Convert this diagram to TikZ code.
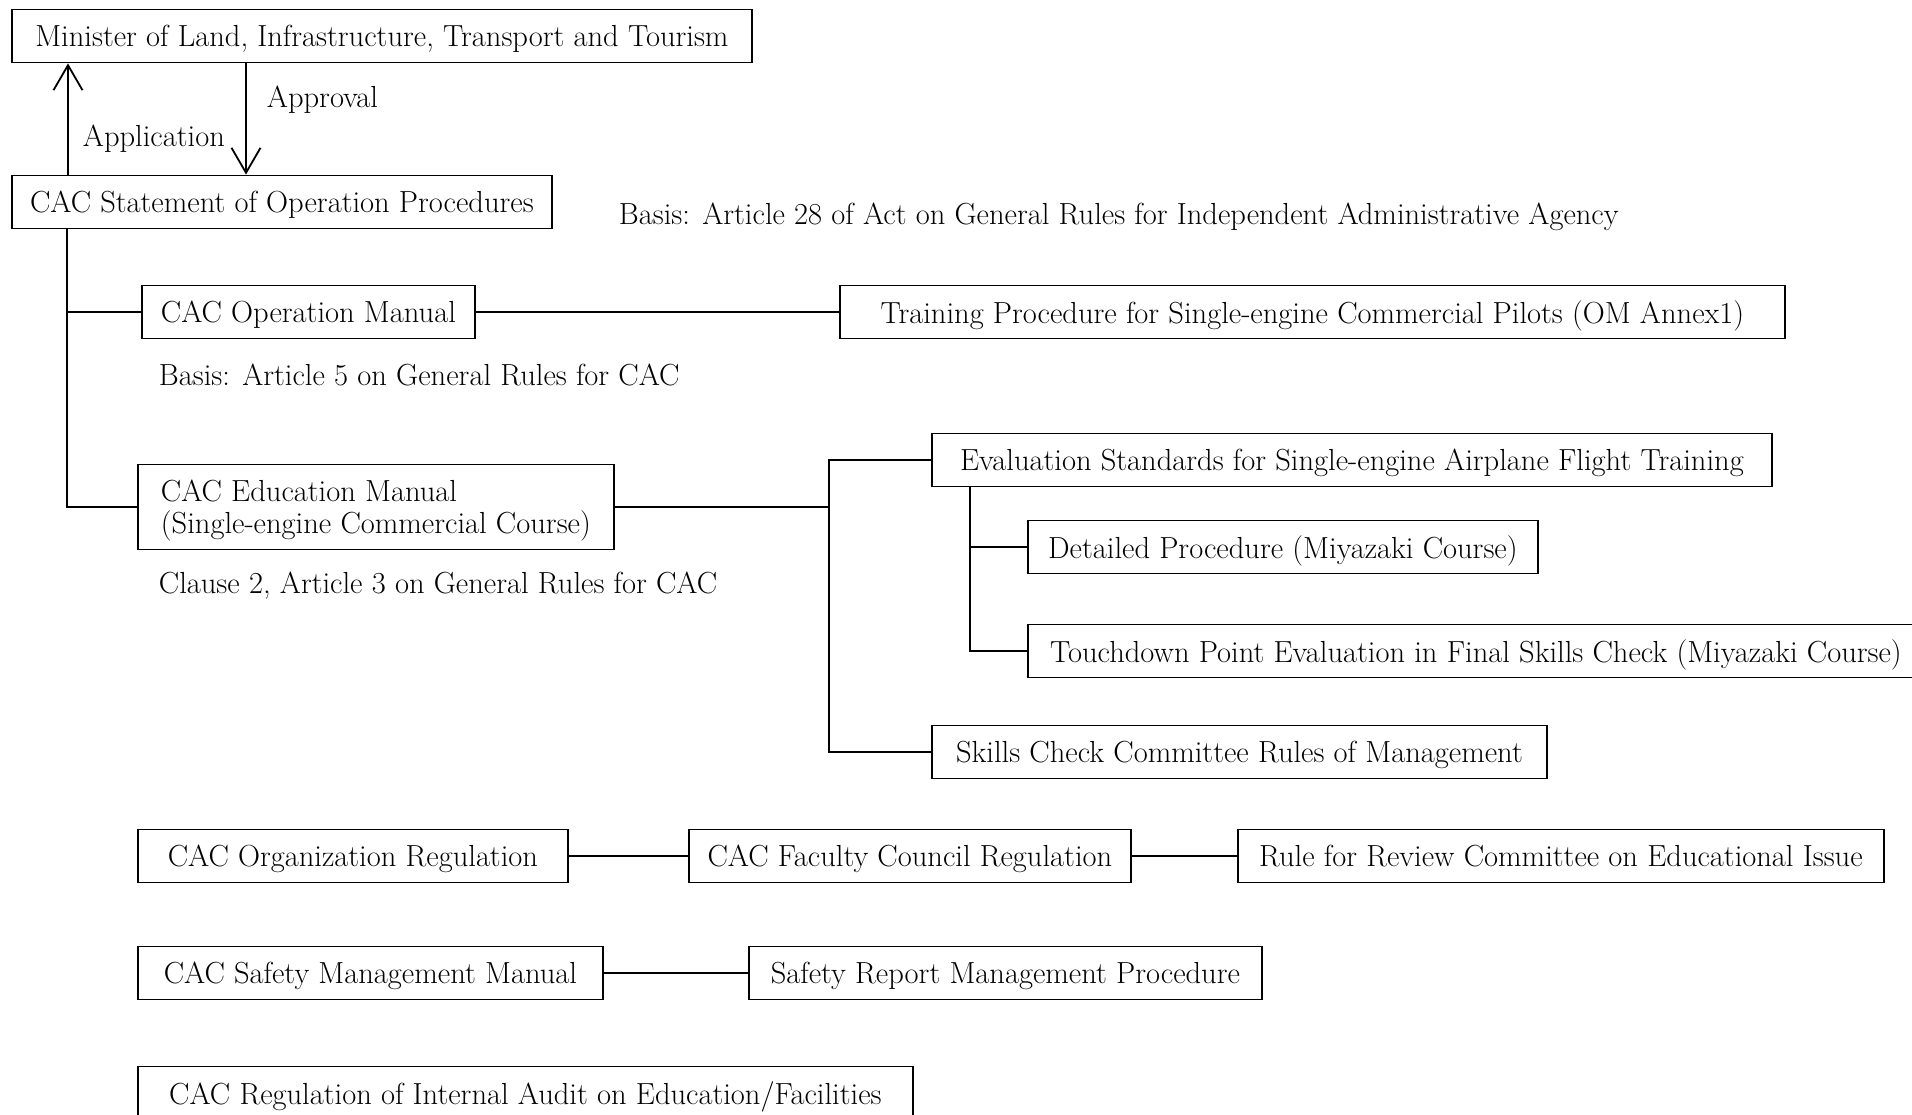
\documentclass[tikz,border=0pt]{standalone}
\usepackage{tikz}
\usetikzlibrary{positioning,calc,arrows.meta}

\tikzset{
    doc/.style={draw, line width=1.8pt, anchor=west, minimum height=53pt,
        inner xsep=18pt, text depth=0pt, font=\fontsize{30.5}{32}\selectfont},
    note/.style={anchor=west, inner sep=0pt, font=\fontsize{30.5}{32}\selectfont},
}

\begin{document}
\begin{tikzpicture}[x=1pt, y=-1pt, line width=1.8pt,
    >={Straight Barb[length=25pt,width=29pt]}]
    \fill[white] (0,0) rectangle (1912,1115);
    \useasboundingbox (0,0) rectangle (1912,1115);

    % top: ministry and statement
    \node[doc, minimum width=740pt] (minister) at (11,36) {Minister of Land, Infrastructure, Transport and Tourism};
    \node[doc, minimum width=540pt] (stmt) at (11,202) {CAC Statement of Operation Procedures};
    \draw[->] ([xshift=57pt]stmt.north west) -- ([xshift=57pt]minister.south west);
    \draw[->] ([xshift=235pt]minister.south west) -- ([xshift=235pt]stmt.north west);
    \node[note] (approval) at (266,100) {Approval};
    \node[note] (application) at (82,139) {Application};
    \node[note] (basis28) at (618,217) {Basis: Article 28 of Act on General Rules for Independent Administrative Agency};

    % manuals
    \node[doc, minimum width=333pt] (opman) at (141,312) {CAC Operation Manual};
    \node[doc, minimum width=945pt] (training) at (839,312) {Training Procedure for Single-engine Commercial Pilots (OM Annex1)};
    \node[note] (basis5) at (158,375) {Basis: Article 5 on General Rules for CAC};
    \node[doc, minimum width=476pt, minimum height=85pt, align=left] (eduman) at (137,507)
        {CAC Education Manual\\(Single-engine Commercial Course)};
    \node[note] (clause2) at (158,586) {Clause 2, Article 3 on General Rules for CAC};

    \draw ([xshift=56pt]stmt.south west) |- (eduman.west);
    \draw (opman.west) -| ([xshift=56pt]stmt.south west);
    \draw (opman.east) -- (training.west);

    % education manual branch
    \node[doc, minimum width=840pt] (evalstd) at (931,460) {Evaluation Standards for Single-engine Airplane Flight Training};
    \node[doc, minimum width=510pt] (detail) at (1027,547) {Detailed Procedure (Miyazaki Course)};
    \node[doc, minimum width=896pt] (touch) at (1027,651) {Touchdown Point Evaluation in Final Skills Check (Miyazaki Course)};
    \node[doc, minimum width=615pt] (skills) at (931,752) {Skills Check Committee Rules of Management};
    \coordinate (bus) at (829,507);
    \draw (eduman.east) -- (bus);
    \draw (evalstd.west) -| (bus) |- (skills.west);
    \draw ([xshift=39pt]evalstd.south west) |- (detail.west);
    \draw ([xshift=39pt]evalstd.south west) |- (touch.west);

    % other regulations
    \node[doc, minimum width=430pt] (orgreg) at (137,856) {CAC Organization Regulation};
    \node[doc, minimum width=442pt] (faculty) at (688,856) {CAC Faculty Council Regulation};
    \node[doc, minimum width=646pt] (review) at (1237,856) {Rule for Review Committee on Educational Issue};
    \draw (orgreg) -- (faculty);
    \draw (faculty) -- (review);

    \node[doc, minimum width=465pt] (safeman) at (137,973) {CAC Safety Management Manual};
    \node[doc, minimum width=513pt] (safereport) at (748,973) {Safety Report Management Procedure};
    \draw (safeman) -- (safereport);

    \node[doc, minimum width=775pt] (audit) at (137,1093) {CAC Regulation of Internal Audit on Education/Facilities};
\end{tikzpicture}
\end{document}
